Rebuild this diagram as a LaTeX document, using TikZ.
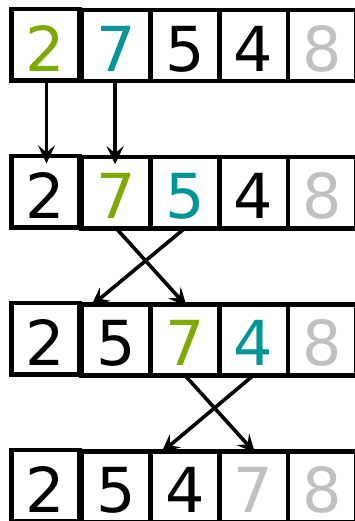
\documentclass[tikz,border=0pt]{standalone}
\usepackage{fontspec}
\setmainfont{DejaVu Sans}
\usetikzlibrary{arrows.meta,calc}
\definecolor{cgreen}{RGB}{124,170,0}
\definecolor{cteal}{RGB}{0,150,150}
\definecolor{cgray}{RGB}{192,192,192}
\tikzset{
  cell/.style={draw, line width=4.6pt, inner sep=0pt, outer sep=0pt,
    minimum width=68.75pt, minimum height=71pt,
    text height=51pt, text depth=0pt,
    font=\fontsize{62pt}{62pt}\selectfont},
  firstcell/.style={cell, minimum width=68.4pt, minimum height=71.8pt, text height=52.5pt},
  move/.style={line width=3.6pt, -{Stealth[length=18pt,width=17pt,inset=7pt]}}
}
\begin{document}
\begin{tikzpicture}[x=1pt,y=-1pt]
\useasboundingbox (0,0) rectangle (355,521);
\clip (0,0) rectangle (355,521);
% rows: r = 0..3
\foreach \r/\a/\ca/\b/\cb/\c/\cc/\d/\cd/\e/\ce in {
  0/2/cgreen/7/cteal/5/black/4/black/8/cgray,
  1/2/black/7/cgreen/5/cteal/4/black/8/cgray,
  2/2/black/5/black/7/cgreen/4/cteal/8/cgray,
  3/2/black/5/black/4/black/7/cgray/8/cgray}{
  \node[firstcell, text=\ca] (b\r0) at (45.5, 44.8+147*\r) {\a};
  \node[cell, text=\cb] (b\r1) at (116.1, 45.7+147*\r) {\b};
  \node[cell, text=\cc] (b\r2) at (184.85, 45.7+147*\r) {\c};
  \node[cell, text=\cd] (b\r3) at (253.6, 45.7+147*\r) {\d};
  \node[cell, text=\ce] (b\r4) at (322.35, 45.7+147*\r) {\e};
}
% row 0 -> row 1: straight copies
\draw[move, shorten >=-7.5pt] ([xshift=1pt]b00.south) -- ([xshift=1pt]b10.north);
\draw[move, shorten >=-7pt] ([xshift=-1pt]b01.south) -- ([xshift=-1pt]b11.north);
% row 1 -> row 2: swap
\coordinate (t21) at ([xshift=11.5pt]b21.north west);
\draw[move, shorten >=-2.5pt] (b11.south) -- (b22.north);
\draw[move, shorten >=-2.5pt] (b12.south) -- (t21);
% row 2 -> row 3: swap
\coordinate (t32) at ([xshift=12.5pt]b32.north west);
\draw[move, shorten >=-2pt] (b22.south) -- (b33.north);
\draw[move, shorten >=-2pt] (b23.south) -- (t32);
\end{tikzpicture}
\end{document}
